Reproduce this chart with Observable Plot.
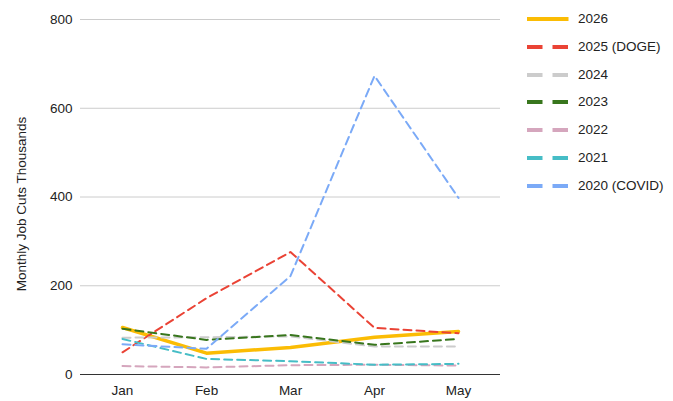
<!DOCTYPE html>
<html>
<head>
<meta charset="utf-8">
<script src="https://cdn.jsdelivr.net/npm/d3@7"></script>
<script src="https://cdn.jsdelivr.net/npm/@observablehq/plot@0.6"></script>
<style>
  html, body { margin: 0; padding: 0; background: #fff; }
  #wrap { position: relative; width: 673px; height: 401px; font-family: "Liberation Sans", Arial, sans-serif; }
  #legend { position: absolute; left: 527px; top: 0; }
  .item { position: absolute; left: 0; width: 150px; height: 20px; white-space: nowrap; }
  .item svg { position: absolute; left: 0; top: 6px; }
  .item span { position: absolute; left: 51px; top: 2px; font-size: 13.5px; color: #222; }
</style>
</head>
<body>
<div id="wrap"><div id="chart"></div><div id="legend"></div></div>
<script>
const months = ["Jan", "Feb", "Mar", "Apr", "May"];
const seriesNames = ["2026", "2025 (DOGE)", "2024", "2023", "2022", "2021", "2020 (COVID)"];
const v2026 = [106, 48, 61, 84, 97];
const v2025 = [50, 172, 276, 105, 93];
const v2024 = [83, 84, 86, 63, 63];
const v2023 = [103, 78, 89, 67, 80];
const v2022 = [19, 16, 21, 22, 20];
const v2021 = [80, 35, 30, 22, 24];
const v2020 = [68, 58, 222, 673, 398];
const yTicks = [0, 200, 400, 600, 800];
const colors = ["#fbbc04", "#ea4335", "#cccccc", "#38761d", "#d5a6bd", "#46bdc6", "#7baaf7"];

const allValues = [v2026, v2025, v2024, v2023, v2022, v2021, v2020];
const table = [];
seriesNames.forEach((name, i) => {
  months.forEach((m, j) => table.push({series: name, month: m, value: allValues[i][j]}));
});

const lineMarks = seriesNames.map((name, i) =>
  Plot.line(table.filter(d => d.series === name), {
    x: "month", y: "value",
    stroke: colors[i],
    strokeWidth: i === 0 ? 3.5 : 2,
    strokeDasharray: i === 0 ? null : "8,5",
    strokeLinejoin: "round"
  })
);

const chart = Plot.plot({
  width: 673,
  height: 401,
  marginLeft: 80,
  marginRight: 173,
  marginTop: 19,
  marginBottom: 27,
  x: {type: "point", domain: months, padding: 0.5, label: null},
  y: {domain: [0, 800], ticks: yTicks, label: null},
  marks: [
    Plot.gridY(yTicks.filter(t => t > 0), {stroke: "#cccccc", strokeOpacity: 1}),
    Plot.axisX({tickSize: 0, tickPadding: 11}),
    Plot.axisY({ticks: yTicks, tickSize: 0, tickPadding: 8, label: null}),
    Plot.text(["Monthly Job Cuts Thousands"], {frameAnchor: "left", textAnchor: "middle", dx: -59, dy: 7, rotate: -90, fill: "#222"}),
    ...lineMarks,
    Plot.ruleY([0], {stroke: "#333"})
  ]
});
chart.querySelectorAll("text").forEach(t => {
  t.style.fontSize = "13.5px";
  t.style.fontFamily = "'Liberation Sans', Arial, sans-serif";
  t.style.fill = "#222";
});
document.getElementById("chart").appendChild(chart);

const legend = document.getElementById("legend");
seriesNames.forEach((name, i) => {
  const div = document.createElement("div");
  div.className = "item";
  div.style.top = (9 + i * 27.8) + "px";
  const dash = i === 0 ? "" : ` stroke-dasharray="15.5,10"`;
  div.innerHTML = `<svg width="42" height="8"><line x1="0" y1="4" x2="41.5" y2="4" stroke="${colors[i]}" stroke-width="4"${dash}/></svg><span>${name}</span>`;
  legend.appendChild(div);
});
</script>
</body>
</html>
